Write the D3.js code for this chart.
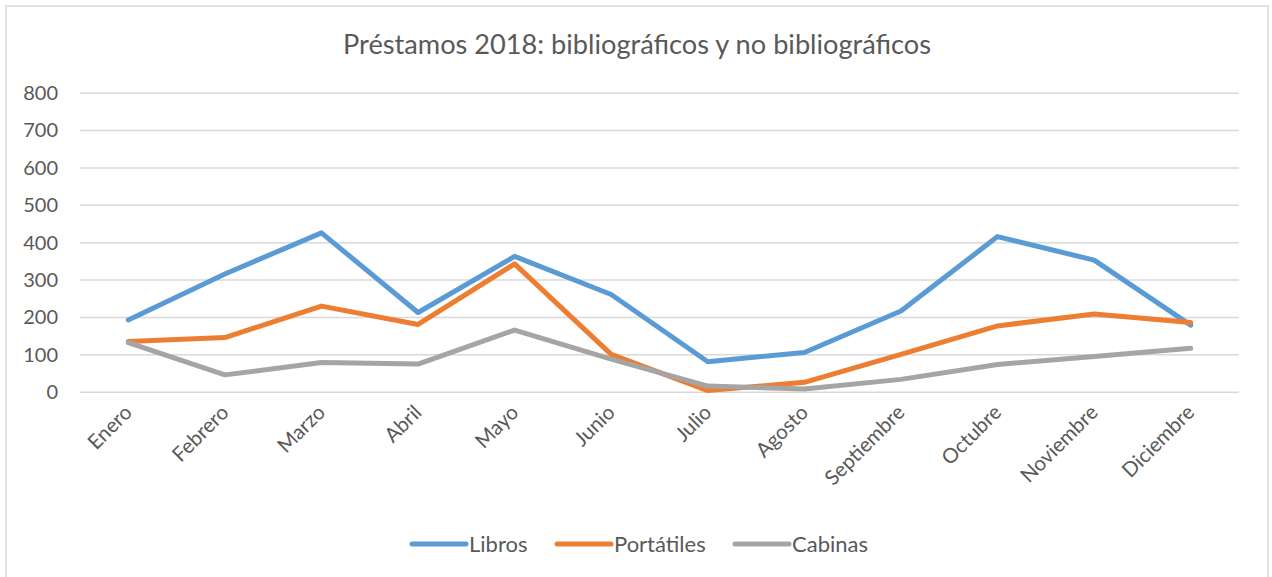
<!DOCTYPE html>
<html>
<head>
<meta charset="utf-8">
<script src="https://cdn.jsdelivr.net/npm/d3@7/dist/d3.min.js"></script>
<style>
  html, body { margin: 0; padding: 0; background: #fff; }
  svg { display: block; font-family: Lato, "Open Sans", sans-serif; }
</style>
</head>
<body>
<svg id="chart" width="1272" height="577"></svg>
<script>
const title = "Préstamos 2018: bibliográficos y no bibliográficos";
const months = ["Enero","Febrero","Marzo","Abril","Mayo","Junio","Julio","Agosto","Septiembre","Octubre","Noviembre","Diciembre"];
const libros = [192, 315, 425, 212, 362, 260, 80, 105, 216, 415, 352, 178];
const portatiles = [134, 145, 229, 180, 342, 100, 3, 25, 100, 176, 208, 185];
const cabinas = [131, 45, 78, 74, 165, 87, 15, 7, 33, 73, 94, 116];
const yTicks = [0, 100, 200, 300, 400, 500, 600, 700, 800];
const seriesNames = ["Libros", "Portátiles", "Cabinas"];
const seriesColors = ["#5B9BD5", "#ED7D31", "#A5A5A5"];

const series = [
  { name: seriesNames[0], values: libros, color: seriesColors[0] },
  { name: seriesNames[1], values: portatiles, color: seriesColors[1] },
  { name: seriesNames[2], values: cabinas, color: seriesColors[2] }
];

const svg = d3.select("#chart");
const textColor = "#595959";

// outer border
svg.append("rect")
  .attr("x", 6).attr("y", 6).attr("width", 1262).attr("height", 590)
  .attr("fill", "#fff").attr("stroke", "#d9d9d9").attr("stroke-width", 1.5);

const plot = { left: 80, right: 1239, top: 92.7, bottom: 391.7 };

const x = d3.scaleBand().domain(months).range([plot.left, plot.right]);
const y = d3.scaleLinear().domain([0, 800]).range([plot.bottom, plot.top]);

// title
svg.append("text")
  .attr("x", 637).attr("y", 54)
  .attr("text-anchor", "middle")
  .attr("font-size", 27.2)
  .attr("fill", textColor)
  .text(title);

// gridlines + y axis
const yAxis = d3.axisLeft(y).tickValues(yTicks).tickSize(-(plot.right - plot.left)).tickPadding(22).tickFormat(d3.format("d"));
const gy = svg.append("g").attr("transform", `translate(${plot.left},0)`).call(yAxis);
gy.select(".domain").remove();
gy.selectAll(".tick line").attr("stroke", "#d9d9d9").attr("stroke-width", 1.5);
gy.selectAll(".tick text").attr("fill", textColor).attr("font-size", 20).attr("font-family", "Lato, sans-serif").attr("dy", "0.34em");

// x axis labels
const xAxis = d3.axisBottom(x).tickSize(0).tickPadding(0);
const gx = svg.append("g").attr("transform", `translate(0,${plot.bottom})`).call(xAxis);
gx.select(".domain").remove();
gx.selectAll(".tick text")
  .attr("fill", textColor)
  .attr("font-size", 20.5)
  .attr("font-family", "Lato, sans-serif")
  .attr("text-anchor", "end")
  .attr("y", 0).attr("dy", 0)
  .attr("transform", "translate(5,22) rotate(-45)");

// lines
const line = d3.line()
  .x((d, i) => x(months[i]) + x.bandwidth() / 2)
  .y(d => y(d));

svg.append("g").selectAll("path")
  .data(series)
  .join("path")
  .attr("d", d => line(d.values))
  .attr("fill", "none")
  .attr("stroke", d => d.color)
  .attr("stroke-width", 5)
  .attr("stroke-linejoin", "round")
  .attr("stroke-linecap", "round");

// legend
const legendX = [412, 557, 735];
const lg = svg.append("g");
series.forEach((s, i) => {
  const g = lg.append("g").attr("transform", `translate(${legendX[i]},544)`);
  g.append("line").attr("x1", 0).attr("x2", 54).attr("y1", 0).attr("y2", 0)
    .attr("stroke", s.color).attr("stroke-width", 5).attr("stroke-linecap", "round");
  g.append("text").attr("x", 57).attr("y", 0).attr("dy", "0.35em")
    .attr("font-size", 22).attr("fill", textColor).text(s.name);
});
</script>
</body>
</html>
